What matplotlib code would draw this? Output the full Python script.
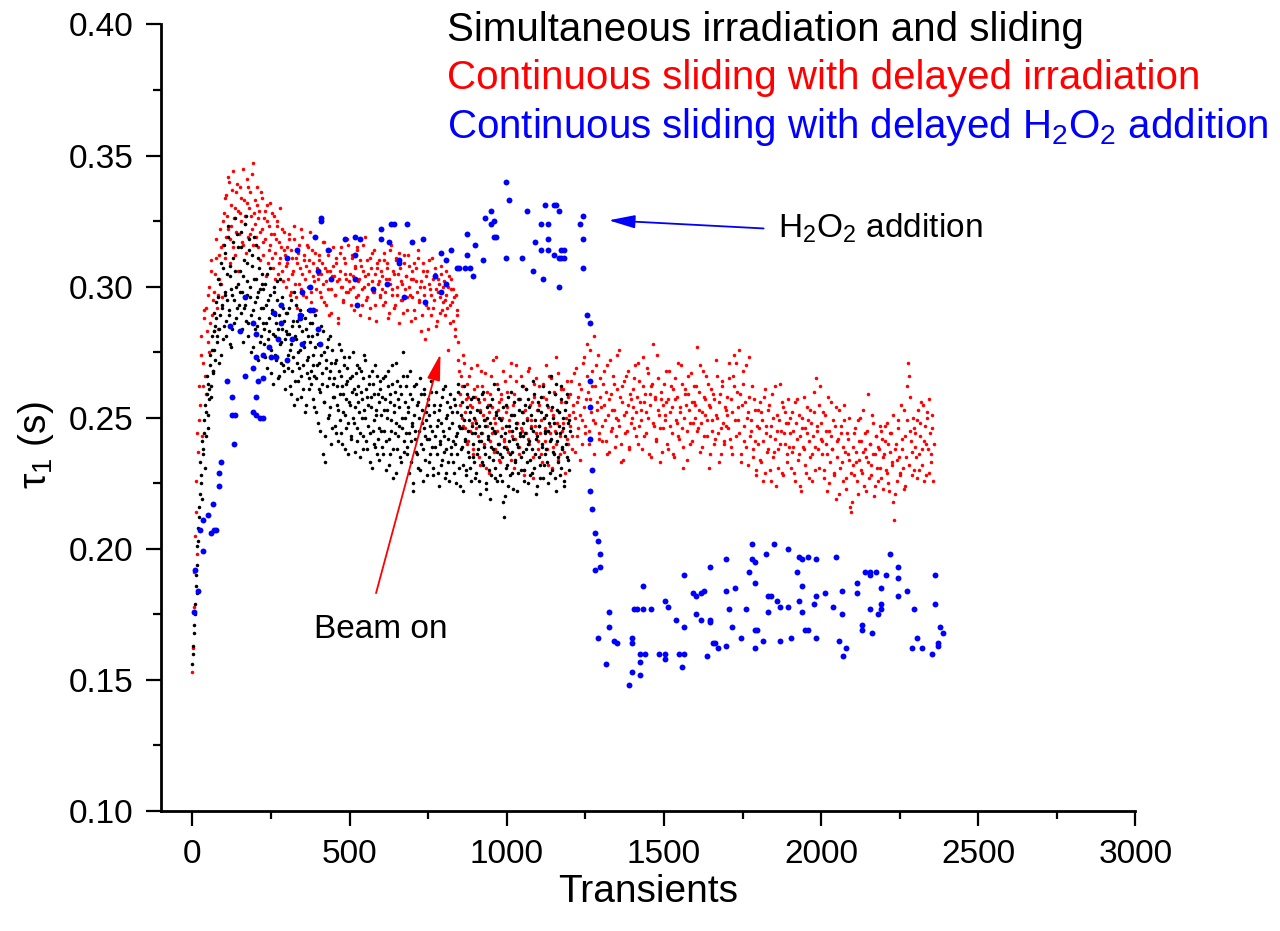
import matplotlib
matplotlib.use('Agg')
import matplotlib.pyplot as plt
from matplotlib.ticker import MultipleLocator, FormatStrFormatter
import numpy as np

plt.rcParams['font.family'] = ['Liberation Sans', 'DejaVu Sans']
plt.rcParams['mathtext.fontset'] = 'custom'
plt.rcParams['mathtext.rm'] = 'Liberation Sans'
plt.rcParams['mathtext.it'] = 'Liberation Sans:italic'
plt.rcParams['mathtext.default'] = 'regular'

# ============================================================================
# DADOS (tau_1, em ms)
# ============================================================================

# vermelho: deslizamento contínuo com irradiação atrasada
# lista A nos transientes 0, 4, 8, ... e lista B nos transientes 2, 6, 10, ...
red_step = 4
red_tau_ms_a = [
    153, 178, 205, 226, 244, 262, 255, 281, 271, 288, 266, 292, 279, 300, 286, 310, 295, 283, 305, 318, 297, 312, 322, 301, 316,
    328, 311, 335, 322, 340, 318, 331, 344, 326, 312, 336, 329, 320, 338, 325, 316, 333, 327, 341, 319, 330, 336, 322, 347, 328,
    324, 338, 315, 329, 321, 334, 312, 326, 318, 331, 309, 323, 316, 328, 307, 320, 313, 325, 305, 317, 311, 322, 302, 314, 308,
    315, 303, 320, 298, 311, 306, 318, 296, 309, 313, 301, 322, 305, 297, 312, 308, 316, 300, 310, 294, 314, 304, 319, 299, 307,
    303, 312, 296, 309, 301, 317, 293, 306, 299, 314, 290, 304, 308, 297, 311, 302, 288, 306, 315, 300, 295, 309, 303, 318, 298,
    305, 293, 311, 300, 307, 296, 314, 302, 289, 308, 299, 316, 304, 295, 310, 301, 292, 307, 313, 298, 305, 287, 309, 302, 296,
    306, 299, 313, 294, 303, 309, 290, 301, 316, 297, 305, 293, 310, 300, 286, 307, 302, 295, 312, 299, 304, 291, 308, 297, 303,
    296, 309, 288, 302, 311, 294, 300, 283, 306, 297, 280, 304, 292, 310, 299, 289, 303, 295, 307, 285, 298, 301, 290, 305, 294,
    302, 289, 297, 276, 304, 293, 299, 287, 296, 281, 291, 279, 268, 255, 262, 247, 271, 252, 240, 258, 266, 245, 254, 236, 261,
    249, 270, 243, 256, 232, 262, 251, 240, 267, 247, 255, 229, 259, 244, 272, 250, 238, 263, 253, 234, 257, 246, 268, 241, 252,
    260, 237, 249, 271, 243, 255, 231, 264, 248, 257, 239, 266, 245, 252, 228, 261, 250, 242, 269, 247, 256, 235, 263, 244, 253,
    241, 262, 249, 233, 258, 246, 270, 238, 254, 244, 265, 231, 251, 259, 240, 248, 267, 236, 256, 245, 261, 229, 250, 242, 258,
    247, 264, 238, 255, 250, 269, 243, 258, 234, 261, 249, 273, 244, 257, 266, 240, 276, 252, 262, 281, 248, 270, 256, 242, 265,
    254, 241, 268, 249, 260, 236, 257, 272, 245, 253, 263, 239, 250, 274, 247, 258, 233, 262, 251, 244, 266, 255, 238, 259, 248,
    261, 246, 270, 252, 240, 264, 256, 249, 273, 243, 259, 252, 267, 236, 255, 262, 278, 247, 258, 241, 265, 251, 233, 257, 246,
    263, 249, 256, 238, 268, 252, 244, 261, 235, 257, 248, 271, 242, 254, 263, 231, 250, 259, 245, 266, 253, 240, 256, 248, 262,
    255, 277, 246, 260, 237, 252, 268, 243, 257, 249, 263, 231, 254, 245, 259, 240, 251, 266, 244, 256, 236, 262, 248, 241, 253,
    258, 246, 271, 239, 252, 266, 274, 243, 260, 249, 276, 236, 255, 263, 241, 270, 250, 232, 258, 245, 262, 238, 253, 228, 247,
    240, 256, 233, 249, 226, 261, 244, 237, 253, 230, 247, 259, 235, 242, 224, 251, 238, 263, 245, 229, 254, 240, 248, 233, 257,
    244, 231, 252, 239, 226, 248, 257, 236, 243, 222, 250, 238, 246, 229, 254, 241, 235, 248, 226, 252, 239, 265, 245, 231, 262,
    248, 236, 227, 251, 240, 222, 245, 233, 256, 238, 229, 247, 219, 241, 253, 231, 244, 226, 249, 237, 223, 242, 234, 216, 214,
    239, 228, 246, 233, 221, 241, 250, 230, 237, 224, 244, 235, 259, 227, 240, 232, 248, 220, 236, 243, 226, 238, 231, 245, 223,
    236, 247, 229, 240, 222, 244, 233, 218, 211, 238, 226, 249, 235, 228, 242, 231, 253, 224, 262, 271, 266, 245, 237, 250, 230,
    244, 227, 253, 236, 248, 232, 255, 241, 228, 250, 238, 257, 233, 246, 226,
]
red_tau_ms_b = [
    162, 191, 214, 198, 237, 249, 274, 243, 262, 291, 259, 283, 297, 275, 306, 289, 268, 298, 311, 292, 284, 303, 315, 296, 325,
    334, 319, 327, 342, 309, 323, 337, 315, 330, 321, 339, 306, 328, 334, 317, 345, 324, 313, 332, 338, 320, 327, 343, 316, 333,
    319, 331, 326, 310, 336, 322, 317, 329, 304, 325, 314, 332, 320, 311, 327, 303, 318, 323, 309, 330, 315, 306, 321, 312, 300,
    309, 318, 297, 314, 305, 323, 301, 311, 292, 316, 307, 299, 319, 310, 303, 296, 315, 306, 321, 298, 309, 302, 313, 291, 305,
    310, 298, 305, 317, 294, 307, 302, 312, 289, 306, 299, 315, 304, 297, 309, 286, 303, 313, 300, 294, 311, 305, 298, 316, 302,
    299, 312, 304, 291, 308, 315, 297, 303, 310, 293, 306, 300, 319, 296, 305, 288, 311, 302, 298, 314, 293, 307, 301, 310, 297,
    304, 293, 310, 298, 307, 288, 303, 314, 299, 306, 292, 311, 297, 305, 313, 295, 301, 290, 309, 304, 296, 312, 300, 287, 306,
    303, 291, 307, 298, 314, 295, 302, 289, 309, 300, 293, 306, 284, 301, 297, 311, 292, 305, 299, 287, 303, 296, 308, 291, 300,
    295, 306, 292, 300, 286, 303, 294, 299, 284, 297, 289, 272, 259, 266, 250, 274, 246, 257, 263, 241, 255, 269, 248, 238, 258,
    246, 262, 235, 253, 268, 244, 257, 249, 231, 260, 252, 241, 266, 254, 237, 248, 273, 245, 256, 233, 259, 250, 242, 264, 239,
    254, 245, 266, 234, 251, 259, 242, 270, 248, 236, 257, 246, 262, 230, 253, 244, 268, 240, 255, 249, 227, 258, 247, 265, 238,
    255, 244, 236, 263, 250, 241, 257, 232, 266, 247, 253, 239, 260, 245, 273, 234, 252, 243, 261, 248, 237, 256, 264, 240, 251,
    259, 243, 252, 267, 237, 256, 246, 263, 251, 240, 271, 254, 247, 278, 260, 245, 257, 268, 249, 236, 262, 253, 274, 244, 258,
    247, 263, 255, 241, 270, 251, 237, 259, 246, 266, 253, 243, 261, 249, 276, 240, 256, 234, 264, 252, 245, 268, 239, 257, 250,
    254, 265, 243, 258, 271, 247, 253, 238, 262, 256, 244, 269, 250, 259, 235, 263, 248, 257, 242, 274, 253, 246, 260, 237, 255,
    251, 268, 240, 257, 247, 262, 254, 236, 265, 249, 258, 243, 252, 270, 246, 239, 261, 255, 234, 259, 248, 267, 241, 256, 250,
    262, 245, 253, 270, 248, 239, 258, 251, 266, 243, 255, 236, 261, 249, 257, 242, 272, 250, 233, 259, 246, 264, 240, 254, 247,
    251, 265, 242, 257, 236, 262, 249, 271, 254, 244, 259, 233, 268, 247, 256, 239, 252, 273, 243, 249, 235, 257, 241, 230, 253,
    246, 234, 252, 241, 258, 229, 247, 238, 255, 243, 226, 250, 237, 262, 245, 231, 249, 240, 256, 228, 244, 252, 236, 248, 239,
    250, 237, 245, 229, 256, 242, 234, 251, 224, 246, 239, 258, 232, 244, 249, 227, 253, 236, 243, 260, 230, 247, 238, 255, 242,
    241, 252, 230, 245, 236, 258, 225, 243, 238, 249, 228, 254, 235, 242, 221, 247, 233, 239, 255, 227, 244, 236, 250, 229, 218,
    232, 244, 237, 226, 249, 234, 241, 229, 253, 238, 222, 245, 233, 240, 228, 251, 236, 224, 243, 231, 239, 247, 227, 242, 235,
    241, 230, 248, 225, 237, 244, 232, 251, 221, 240, 234, 246, 229, 255, 238, 223, 243, 235, 249, 232, 258, 241, 228, 246, 239,
    235, 249, 230, 243, 256, 238, 226, 247, 240, 252, 229, 244, 236, 251, 240,
]

# preto: irradiação e deslizamento simultâneos
# lista A nos transientes 0, 3, 6, ... e lista B nos transientes 1, 4, 7, ...
black_step = 3
black_tau_ms_a = [
    156, 163, 171, 179, 186, 194, 203, 212, 221, 228, 219, 236, 244, 231, 252, 259, 246, 263, 257, 270, 262, 276, 268, 283, 272,
    288, 279, 296, 284, 301, 274, 292, 307, 285, 298, 313, 281, 295, 319, 289, 304, 277, 297, 311, 286, 326, 300, 292, 315, 283,
    306, 290, 321, 298, 279, 310, 293, 327, 302, 286, 314, 296, 275, 308, 291, 319, 284, 303, 296, 272, 311, 288, 299, 281, 305,
    292, 278, 301, 286, 269, 295, 283, 307, 276, 290, 263, 298, 281, 289, 272, 302, 284, 266, 293, 279, 296, 270, 287, 261, 283,
    290, 274, 282, 262, 295, 278, 268, 287, 255, 281, 293, 271, 264, 285, 276, 258, 289, 270, 279, 252, 284, 267, 291, 273, 261,
    279, 263, 286, 270, 254, 277, 265, 282, 248, 271, 260, 285, 267, 236, 275, 256, 243, 272, 262, 280, 251, 268, 240, 276, 258,
    265, 247, 272, 255, 241, 268, 259, 276, 244, 262, 252, 270, 238, 257, 264, 248, 273, 255, 243, 266, 250, 261, 237, 259, 270,
    246, 262, 252, 235, 268, 257, 243, 274, 250, 261, 238, 255, 266, 244, 258, 231, 263, 249, 240, 270, 253, 236, 259, 246, 264,
    251, 239, 265, 245, 257, 230, 253, 268, 242, 259, 236, 249, 263, 227, 255, 244, 271, 238, 257, 247, 262, 233, 250, 275, 241,
    256, 244, 266, 236, 252, 229, 259, 241, 248, 222, 262, 245, 237, 255, 231, 250, 265, 240, 253, 226, 246, 259, 234, 249, 242,
    257, 233, 247, 264, 239, 228, 252, 243, 260, 236, 249, 224, 255, 241, 232, 258, 245, 237, 262, 229, 251, 242, 226, 254, 239,
    248, 233, 257, 240, 225, 252, 244, 263, 231, 246, 238, 256, 222, 249, 241, 230, 259, 245, 235, 252, 226, 247, 240, 258, 233,
    244, 229, 253, 238, 247, 221, 241, 259, 232, 249, 236, 225, 254, 243, 230, 248, 219, 239, 257, 234, 245, 227, 251, 237, 261,
    240, 228, 249, 235, 218, 212, 244, 231, 255, 238, 224, 247, 236, 260, 229, 242, 251, 233, 246, 222, 239, 257, 243, 230, 252,
    237, 248, 226, 244, 261, 233, 240, 254, 228, 246, 238, 264, 231, 249, 221, 243, 256, 235, 247, 227, 252, 240, 262, 232, 245,
    238, 255, 225, 248, 241, 266, 230, 250, 236, 259, 222, 244, 253, 233, 247, 228, 262, 239, 250, 224, 243, 256, 235, 248, 230,
    245,
]
black_tau_ms_b = [
    160, 168, 175, 190, 183, 201, 208, 216, 233, 225, 241, 238, 249, 255, 243, 266, 251, 261, 274, 258, 281, 267, 290, 276, 285,
    294, 281, 303, 271, 289, 309, 293, 280, 316, 297, 287, 305, 323, 291, 278, 308, 299, 284, 317, 295, 306, 288, 320, 301, 293,
    298, 315, 284, 304, 292, 324, 287, 309, 297, 281, 318, 300, 289, 312, 277, 303, 294, 316, 285, 298, 307, 279, 292, 301, 286,
    299, 284, 273, 293, 305, 280, 288, 297, 267, 291, 282, 300, 274, 286, 295, 265, 289, 278, 303, 271, 284, 292, 268, 280, 290,
    282, 269, 292, 276, 259, 285, 273, 298, 264, 280, 287, 257, 275, 269, 291, 266, 283, 261, 277, 288, 255, 272, 281, 265, 286,
    268, 281, 257, 274, 266, 289, 252, 270, 278, 261, 245, 274, 263, 283, 256, 233, 269, 277, 250, 265, 281, 254, 271, 246, 263,
    258, 271, 244, 262, 253, 278, 249, 266, 240, 259, 273, 251, 263, 246, 269, 236, 256, 265, 242, 260, 275, 248, 254, 267, 241,
    256, 269, 244, 260, 250, 238, 265, 253, 272, 241, 258, 247, 263, 233, 254, 268, 245, 259, 239, 251, 266, 242, 256, 234, 261,
    245, 258, 236, 253, 266, 241, 250, 262, 232, 256, 245, 270, 238, 252, 260, 229, 248, 264, 243, 254, 235, 259, 246, 266, 237,
    250, 262, 239, 254, 244, 268, 233, 247, 257, 225, 251, 242, 263, 236, 256, 245, 230, 259, 248, 238, 261, 243, 252, 228, 255,
    242, 251, 236, 260, 245, 231, 255, 239, 266, 247, 229, 253, 240, 248, 234, 261, 243, 227, 250, 238, 256, 233, 246, 259, 236,
    252, 241, 229, 255, 243, 236, 260, 247, 224, 251, 239, 246, 232, 262, 242, 228, 254, 237, 249, 231, 257, 244, 235, 250, 227,
    248, 236, 257, 241, 226, 252, 244, 233, 260, 239, 247, 223, 250, 242, 235, 255, 228, 246, 238, 263, 231, 244, 252, 226, 240,
    250, 236, 243, 226, 254, 239, 220, 247, 232, 258, 241, 228, 251, 237, 245, 223, 256, 234, 248, 240, 229, 253, 244, 235, 262,
    243, 230, 255, 238, 249, 225, 257, 241, 234, 251, 229, 245, 259, 236, 242, 224, 253, 247, 232, 258, 239, 227, 250, 244, 236,
    251, 233, 245, 260, 229, 242, 254, 237, 248, 227, 263, 241, 235, 252, 244, 231, 257, 238, 246, 226, 253, 240, 259, 234, 249,
]

# azul: deslizamento contínuo com adição atrasada de H2O2 (transiente, s)
blue_x = [
    6, 7, 17, 25, 34, 34, 51, 59, 66, 68, 75, 84, 84, 92, 109, 118, 126, 126, 133, 134,
    150, 166, 168, 192, 192, 192, 201, 201, 201, 201, 208, 216, 225, 225, 225, 242, 250, 260, 265, 273,
    282, 282, 300, 300, 318, 334, 341, 343, 350, 350, 374, 375, 384, 391, 400, 400, 406, 408, 408, 432,
    441, 484, 516, 516, 516, 525, 533, 573, 599, 599, 618, 624, 633, 641, 657, 657, 674, 681, 700, 733,
    741, 773, 791, 791, 808, 808, 824, 840, 849, 866, 874, 874, 883, 891, 898, 924, 932, 950, 950, 958,
    958, 966, 997, 997, 1007, 1048, 1065, 1082, 1091, 1108, 1108, 1115, 1123, 1132, 1132, 1132, 1149, 1149, 1157, 1165,
    1165, 1165, 1173, 1173, 1182, 1182, 1233, 1241, 1241, 1241,
    1256, 1265, 1265, 1265, 1265, 1272, 1265, 1272, 1280, 1289, 1298, 1280, 1298,
    1289, 1315, 1325, 1325, 1342, 1351, 1388, 1397, 1397, 1397, 1405, 1414, 1423, 1423, 1423, 1432, 1432, 1440, 1459, 1485,
    1503, 1503, 1503, 1512, 1539, 1548, 1556, 1565, 1565, 1565, 1591, 1602, 1602, 1619, 1619, 1628, 1637, 1645, 1645, 1645,
    1655, 1663, 1672, 1698, 1698, 1698, 1707, 1716, 1725, 1744, 1761, 1770, 1779, 1779, 1788, 1788, 1788, 1788, 1797, 1815,
    1824, 1832, 1832, 1841, 1850, 1859, 1868, 1868, 1895, 1895, 1904, 1922, 1931, 1931, 1940, 1940, 1940, 1949, 1958, 1958,
    1976, 1984, 1984, 1984, 2012, 2039, 2047, 2056,
    2065, 2065, 2071, 2080, 2113, 2113, 2130, 2130, 2139, 2156, 2156, 2156, 2163, 2173, 2180, 2189, 2189, 2189, 2205, 2220,
    2246, 2246, 2246, 2272, 2288, 2296, 2304, 2321, 2354, 2363, 2363, 2371, 2371, 2379, 2388,
]
blue_tau = [
    0.176, 0.192, 0.184, 0.207, 0.199, 0.211, 0.213, 0.206, 0.217, 0.207, 0.207, 0.224, 0.229, 0.233, 0.264, 0.285, 0.251, 0.258, 0.240, 0.251,
    0.283, 0.266, 0.296, 0.252, 0.269, 0.286, 0.251, 0.258, 0.273, 0.282, 0.264, 0.250, 0.250, 0.265, 0.274, 0.277, 0.273, 0.290, 0.273, 0.280,
    0.286, 0.293, 0.272, 0.311, 0.280, 0.314, 0.289, 0.288, 0.278, 0.298, 0.291, 0.300, 0.291, 0.319, 0.284, 0.306, 0.278, 0.326, 0.325, 0.314,
    0.303, 0.318, 0.319, 0.312, 0.303, 0.293, 0.318, 0.299, 0.322, 0.318, 0.301, 0.317, 0.324, 0.324, 0.310, 0.309, 0.296, 0.324, 0.317, 0.318,
    0.294, 0.304, 0.313, 0.298, 0.310, 0.301, 0.314, 0.307, 0.307, 0.307, 0.320, 0.312, 0.307, 0.304, 0.316, 0.310, 0.326, 0.329, 0.324, 0.325,
    0.319, 0.319, 0.340, 0.311, 0.333, 0.311, 0.329, 0.306, 0.317, 0.324, 0.314, 0.303, 0.331, 0.324, 0.318, 0.314, 0.331, 0.312, 0.331, 0.329,
    0.311, 0.300, 0.314, 0.311, 0.314, 0.311, 0.324, 0.327, 0.318, 0.307,
    0.289, 0.286, 0.264, 0.254, 0.242, 0.230, 0.222, 0.215, 0.206, 0.203, 0.198, 0.192, 0.193,
    0.166, 0.156, 0.176, 0.170, 0.165, 0.164, 0.148, 0.166, 0.164, 0.153, 0.177, 0.177, 0.152, 0.157, 0.160, 0.177, 0.186, 0.160, 0.177, 0.160,
    0.160, 0.158, 0.180, 0.178, 0.173, 0.160, 0.155, 0.160, 0.170, 0.190, 0.183, 0.182, 0.175, 0.183, 0.173, 0.184, 0.159, 0.173, 0.172, 0.193,
    0.164, 0.164, 0.162, 0.196, 0.184, 0.163, 0.177, 0.170, 0.185, 0.166, 0.177, 0.191, 0.196, 0.202, 0.195, 0.187, 0.169, 0.162, 0.169, 0.165,
    0.198, 0.182, 0.176, 0.182, 0.202, 0.180, 0.178, 0.165, 0.200, 0.178, 0.166, 0.191, 0.197, 0.180, 0.196, 0.186, 0.176, 0.169, 0.197, 0.169,
    0.179, 0.196, 0.182, 0.166, 0.183, 0.178, 0.197, 0.165,
    0.184, 0.175, 0.159, 0.162, 0.187, 0.183, 0.171, 0.169, 0.191, 0.191, 0.190, 0.177, 0.168, 0.191, 0.175, 0.185, 0.179, 0.177, 0.190, 0.198,
    0.193, 0.189, 0.182, 0.184, 0.162, 0.177, 0.166, 0.162, 0.160, 0.190, 0.179, 0.164, 0.163, 0.170, 0.168,
]

red_x = np.concatenate([np.arange(len(red_tau_ms_a)) * red_step,
                        np.arange(len(red_tau_ms_b)) * red_step + 2])
red_tau = np.array(red_tau_ms_a + red_tau_ms_b) / 1000.0
black_x = np.concatenate([np.arange(len(black_tau_ms_a)) * black_step,
                          np.arange(len(black_tau_ms_b)) * black_step + 1])
black_tau = np.array(black_tau_ms_a + black_tau_ms_b) / 1000.0

# ============================================================================
# GRÁFICO
# ============================================================================

fig = plt.figure(figsize=(12.8, 9.31), dpi=100)
ax = fig.add_axes([0.1258, 0.1289, 0.7613, 0.8448])

ax.scatter(red_x, red_tau, s=6.5, c='#ff0000', marker='o', linewidths=0, zorder=2)
ax.scatter(black_x, black_tau, s=6.5, c='black', marker='o', linewidths=0, zorder=3)
ax.scatter(blue_x, blue_tau, s=18, c='#0000ff', marker='o', linewidths=0, zorder=4)

ax.set_xlim(-100, 3000)
ax.set_ylim(0.10, 0.40)
ax.xaxis.set_major_locator(MultipleLocator(500))
ax.xaxis.set_minor_locator(MultipleLocator(250))
ax.yaxis.set_major_locator(MultipleLocator(0.05))
ax.yaxis.set_minor_locator(MultipleLocator(0.025))
ax.yaxis.set_major_formatter(FormatStrFormatter('%.2f'))

for side in ['top', 'right']:
    ax.spines[side].set_visible(False)
for side in ['left', 'bottom']:
    ax.spines[side].set_linewidth(2.0)

ax.tick_params(which='major', direction='out', length=11, width=1.6, labelsize=24)
ax.tick_params(which='minor', direction='out', length=5.5, width=1.6)
ax.tick_params(axis='x', which='major', pad=9)
ax.tick_params(axis='y', which='major', pad=9)

ax.set_xlabel('Transients', fontsize=28, labelpad=3)
ax.set_ylabel('τ$_1$ (s)', fontsize=28)
ax.yaxis.set_label_coords(-0.108, 0.465)

# legenda em texto colorido
fig.text(0.349, 0.956, 'Simultaneous irradiation and sliding', color='black', fontsize=29, va='baseline')
fig.text(0.349, 0.904, 'Continuous sliding with delayed irradiation', color='#ff0000', fontsize=29, va='baseline')
fig.text(0.349, 0.852, 'Continuous sliding with delayed H$_2$O$_2$ addition', color='#0000ff', fontsize=29, va='baseline')

# anotações
ax.annotate('', xy=(1324, 0.3253), xytext=(1817, 0.3222),
            arrowprops=dict(arrowstyle='-|>,head_length=0.8,head_width=0.2', color='#0000ff',
                            lw=1.3, shrinkA=0, shrinkB=0, mutation_scale=20))
ax.text(1864, 0.3188, 'H$_2$O$_2$ addition', fontsize=24, va='baseline')

ax.annotate('', xy=(789, 0.2743), xytext=(584, 0.1831),
            arrowprops=dict(arrowstyle='-|>,head_length=0.8,head_width=0.2', color='#ff0000',
                            lw=1.3, shrinkA=0, shrinkB=0, mutation_scale=20))
ax.text(386, 0.166, 'Beam on', fontsize=24, va='baseline')

plt.savefig('out.png', dpi=100)
plt.close()
